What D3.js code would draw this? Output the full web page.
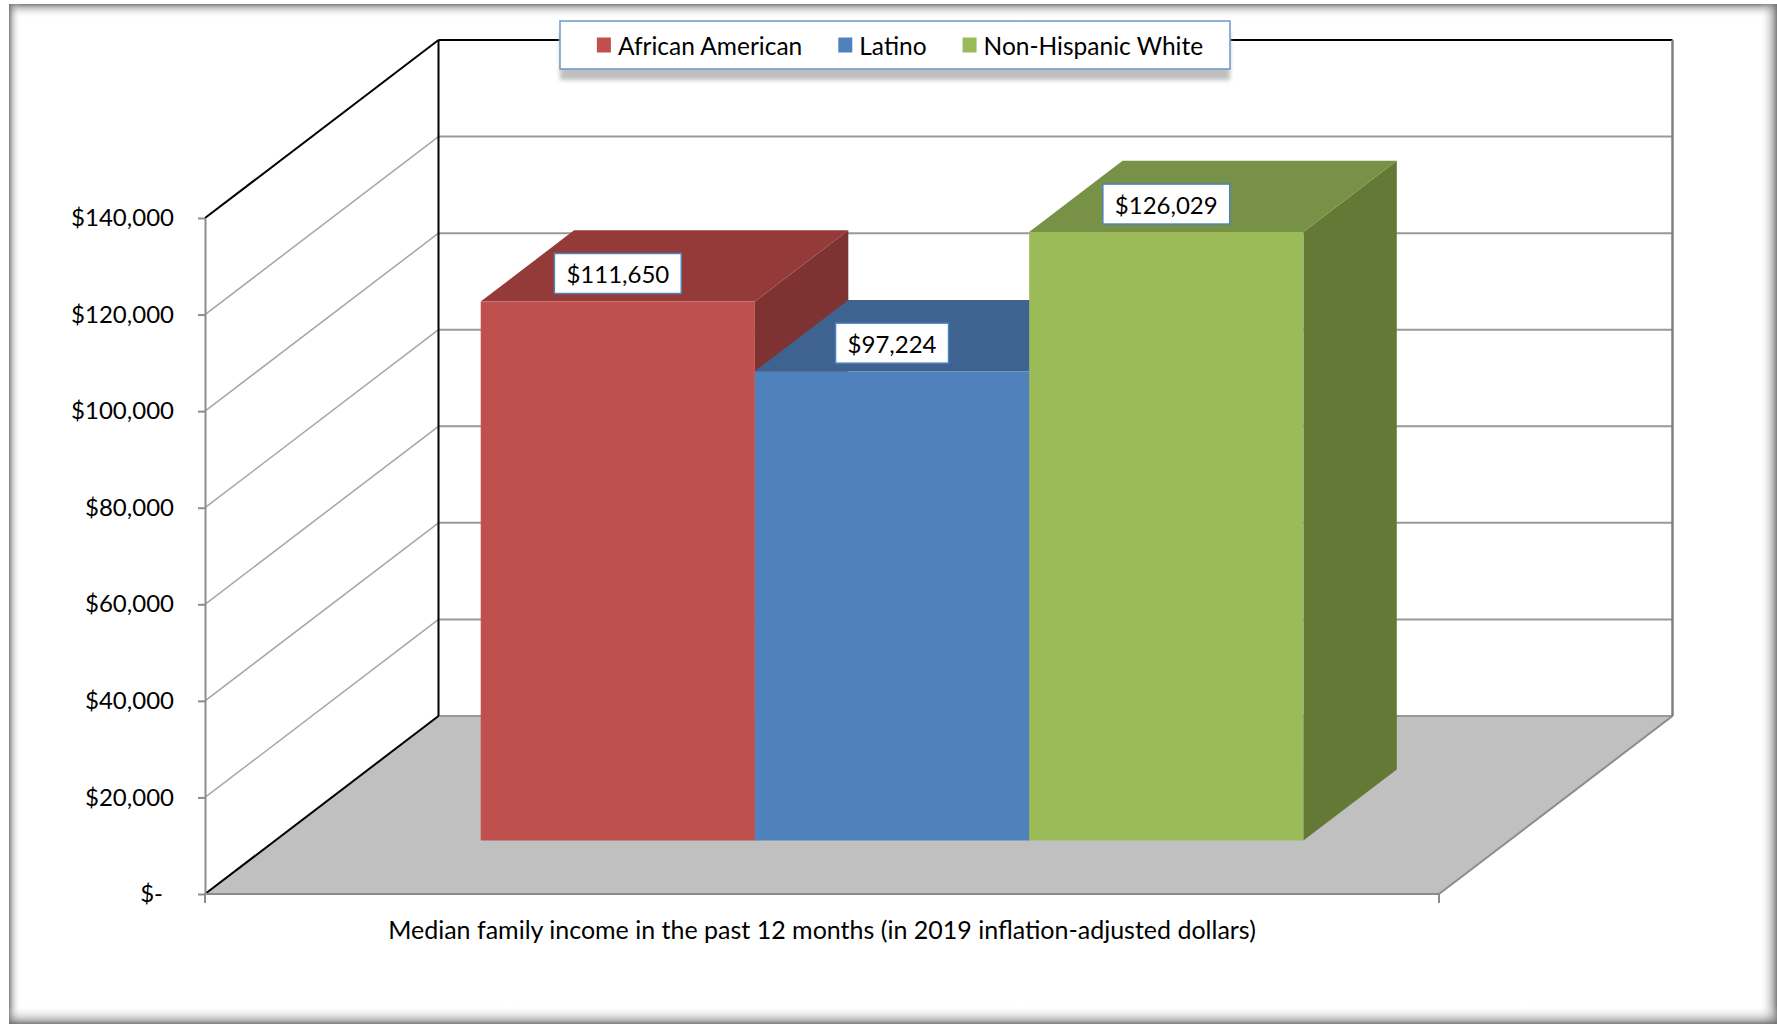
<!DOCTYPE html>
<html>
<head>
<meta charset="utf-8">
<script src="https://cdn.jsdelivr.net/npm/d3@7"></script>
<style>
  html, body { margin: 0; padding: 0; background: #fff; }
  svg { display: block; }
  text { font-family: Lato, "Open Sans", sans-serif; fill: #000; }
</style>
</head>
<body>
<svg id="chart" width="1777" height="1024"></svg>
<script>
// ---- data ----
const categories = ["Median family income in the past 12 months (in 2019 inflation-adjusted dollars)"];
const seriesNames = ["African American", "Latino", "Non-Hispanic White"];
const seriesValues = [111650, 97224, 126029];
const tickValues = [0, 20000, 40000, 60000, 80000, 100000, 120000, 140000];
const tickLabels = ["$-", "$20,000", "$40,000", "$60,000", "$80,000", "$100,000", "$120,000", "$140,000"];
const valueLabels = ["$111,650", "$97,224", "$126,029"];

// ---- styling ----
const faceColors = {
  "African American":   { front: "#C0504D", top: "#943B3A", side: "#7F3232" },
  "Latino":             { front: "#4F81BD", top: "#3E6391", side: "#34547C" },
  "Non-Hispanic White": { front: "#9BBB59", top: "#779246", side: "#657937" }
};
const WORD_FONT = 25;
const LEGEND_FONT = 24.5;
const NUM_FONT = 24;

const svg = d3.select("#chart");
const W = 1777, H = 1024;
const defs = svg.append("defs");
defs.append("filter").attr("id", "legendBlur").attr("x", "-5%").attr("y", "-50%").attr("width", "110%").attr("height", "200%")
  .append("feGaussianBlur").attr("stdDeviation", 2);

// ---- outer frame: shaded bands fading inward from each edge ----
const frame = { x: 9, y: 4, x2: W, y2: H };
const bands = [
  { id: "fTop",    x1: 0, y1: 0, x2: 0, y2: 1, x: frame.x, y: frame.y, w: frame.x2 - frame.x, h: 14 },
  { id: "fLeft",   x1: 0, y1: 0, x2: 1, y2: 0, x: frame.x, y: frame.y, w: 12, h: frame.y2 - frame.y },
  { id: "fRight",  x1: 1, y1: 0, x2: 0, y2: 0, x: frame.x2 - 18, y: frame.y, w: 18, h: frame.y2 - frame.y },
  { id: "fBottom", x1: 0, y1: 1, x2: 0, y2: 0, x: frame.x, y: frame.y2 - 18, w: frame.x2 - frame.x, h: 18 }
];
bands.forEach(b => {
  const gr = defs.append("linearGradient").attr("id", b.id)
    .attr("x1", b.x1).attr("y1", b.y1).attr("x2", b.x2).attr("y2", b.y2);
  gr.append("stop").attr("offset", 0).attr("stop-color", "#6e6e6e").attr("stop-opacity", 0.9);
  gr.append("stop").attr("offset", 0.25).attr("stop-color", "#8a8a8a").attr("stop-opacity", 0.55);
  gr.append("stop").attr("offset", 0.6).attr("stop-color", "#bbbbbb").attr("stop-opacity", 0.25);
  gr.append("stop").attr("offset", 1).attr("stop-color", "#ffffff").attr("stop-opacity", 0);
  svg.append("rect").attr("x", b.x).attr("y", b.y).attr("width", b.w).attr("height", b.h)
    .attr("fill", `url(#${b.id})`);
});

// ---- 3D geometry ----
const origin = { x: 205, y: 894 };      // front-left corner of the floor
const depth = { dx: 233.5, dy: 178 };    // offset from front to back wall
const floorW = 1234;
const plotH = 676;
const barZ0 = 0.3, barZ1 = 0.7;          // bar depth inside the floor

const yScale = d3.scaleLinear().domain([0, 140000]).range([0, plotH]);
const xCat = d3.scaleBand().domain(categories).range([0, floorW]);
const xSeries = d3.scaleBand().domain(seriesNames).range([0, xCat.bandwidth()])
  .paddingInner(0).paddingOuter(0.75);

const pt = (x, h, z) => [origin.x + x + z * depth.dx, origin.y - h - z * depth.dy];
const poly = pts => "M" + pts.map(p => p.join(",")).join("L") + "Z";
const line = (a, b) => "M" + a.join(",") + "L" + b.join(",");

const walls = svg.append("g");

// floor
walls.append("path")
  .attr("d", poly([pt(0, 0, 0), pt(0, 0, 1), pt(floorW, 0, 1), pt(floorW, 0, 0)]))
  .attr("fill", "#C0C0C0").attr("stroke", "none");

// gridlines on side wall and back wall
tickValues.forEach(t => {
  const h = yScale(t);
  const isTop = t === d3.max(tickValues);
  const col = isTop ? "#000" : "#A6A6A6";
  if (t > 0) {
    walls.append("path").attr("d", line(pt(0, h, 0), pt(0, h, 1)))
      .attr("stroke", col).attr("stroke-width", isTop ? 2 : 1.5).attr("fill", "none");
  }
  walls.append("path").attr("d", line(pt(0, h, 1), pt(floorW, h, 1)))
    .attr("stroke", isTop ? "#000" : "#999").attr("stroke-width", 2).attr("fill", "none");
});

// wall edges
walls.append("path").attr("d", line(pt(0, 0, 1), pt(0, plotH, 1)))
  .attr("stroke", "#000").attr("stroke-width", 2);
walls.append("path").attr("d", line(pt(floorW, 0, 1), pt(floorW, plotH, 1)))
  .attr("stroke", "#7f7f7f").attr("stroke-width", 2.5);
walls.append("path").attr("d", line(pt(0, 0, 0), pt(0, 0, 1)))
  .attr("stroke", "#000").attr("stroke-width", 2);
walls.append("path").attr("d", line(pt(floorW, 0, 0), pt(floorW, 0, 1)))
  .attr("stroke", "#8c8c8c").attr("stroke-width", 2);
walls.append("path").attr("d", line(pt(0, 0, 0), pt(floorW, 0, 0)))
  .attr("stroke", "#8c8c8c").attr("stroke-width", 2);

// ---- y axis on the front-left edge ----
const yFront = d3.scaleLinear().domain([0, 140000]).range([origin.y, origin.y - plotH]);
const yAxis = svg.append("g").attr("transform", `translate(${origin.x},0)`)
  .call(d3.axisLeft(yFront).tickValues(tickValues)
    .tickFormat((d, i) => tickLabels[i]).tickSize(7).tickSizeOuter(0).tickPadding(24));
yAxis.select(".domain").attr("stroke", "#8c8c8c").attr("stroke-width", 2);
yAxis.selectAll(".tick line").attr("stroke", "#8c8c8c").attr("stroke-width", 2);
yAxis.selectAll(".tick text").style("font-size", NUM_FONT + "px").attr("fill", "#000")
  .style("font-family", "Lato, 'Open Sans', sans-serif")
  .attr("dx", d => d === 0 ? -11 : 0);

// ---- category axis along the front floor edge ----
const xAxis = svg.append("g").attr("transform", `translate(${origin.x},${origin.y})`)
  .call(d3.axisBottom(xCat).tickSize(0).tickPadding(27));
xAxis.select(".domain").remove();
xAxis.selectAll(".tick text").style("font-size", WORD_FONT + "px").attr("fill", "#000")
  .style("font-family", "Lato, 'Open Sans', sans-serif");
// boundary ticks at both ends of the category band
xAxis.selectAll("line.edge").data(xCat.range()).enter().append("line").attr("class", "edge")
  .attr("x1", d => d).attr("x2", d => d).attr("y1", 0).attr("y2", 9)
  .attr("stroke", "#8c8c8c").attr("stroke-width", 2);

// ---- 3D bars ----
const bars = svg.append("g");
seriesNames.forEach((name, i) => {
  const x0 = xCat(categories[0]) + xSeries(name);
  const w = xSeries.bandwidth();
  const h = yScale(seriesValues[i]);
  const c = faceColors[name];
  const g = bars.append("g");
  g.append("path").attr("d", poly([pt(x0 + w, 0, barZ0), pt(x0 + w, h, barZ0), pt(x0 + w, h, barZ1), pt(x0 + w, 0, barZ1)]))
    .attr("fill", c.side);
  g.append("path").attr("d", poly([pt(x0, h, barZ0), pt(x0 + w, h, barZ0), pt(x0 + w, h, barZ1), pt(x0, h, barZ1)]))
    .attr("fill", c.top);
  g.append("path").attr("d", poly([pt(x0, 0, barZ0), pt(x0 + w, 0, barZ0), pt(x0 + w, h, barZ0), pt(x0, h, barZ0)]))
    .attr("fill", c.front);
});

// ---- value labels ----
const labels = svg.append("g");
seriesNames.forEach((name, i) => {
  const x0 = xCat(categories[0]) + xSeries(name);
  const w = xSeries.bandwidth();
  const h = yScale(seriesValues[i]);
  const [cx, cy0] = pt(x0 + w / 2, h, barZ0);
  const cy = cy0 - 28;
  const g = labels.append("g");
  const rect = g.append("rect").attr("fill", "#fff").attr("stroke", "#4F81BD").attr("stroke-width", 1.5);
  const t = g.append("text").attr("x", cx).attr("y", cy).attr("text-anchor", "middle")
    .attr("dominant-baseline", "central").style("font-size", NUM_FONT + "px").text(valueLabels[i]);
  const tw = t.node().getComputedTextLength();
  const bw = tw + 24, bh = 40;
  rect.attr("x", cx - bw / 2).attr("y", cy - bh / 2).attr("width", bw).attr("height", bh);
});

// ---- legend ----
const legendBox = { x: 560, y: 21, w: 670, h: 48 };
const legend = svg.append("g");
legend.append("rect").attr("x", legendBox.x).attr("y", legendBox.y + 11).attr("width", legendBox.w).attr("height", legendBox.h)
  .attr("fill", "#bfbfbf").attr("filter", "url(#legendBlur)");
legend.append("rect").attr("x", legendBox.x).attr("y", legendBox.y).attr("width", legendBox.w).attr("height", legendBox.h)
  .attr("fill", "#fff").attr("stroke", "#6f95c8").attr("stroke-width", 1.5);
const items = legend.append("g");
let cursor = 0;
seriesNames.forEach((name, i) => {
  const g = items.append("g").attr("transform", `translate(${cursor},0)`);
  g.append("rect").attr("x", 0).attr("y", -7.5).attr("width", 14).attr("height", 15).attr("fill", faceColors[name].front);
  const t = g.append("text").attr("x", 21).attr("y", 0).attr("dominant-baseline", "central")
    .style("font-size", LEGEND_FONT + "px").text(name);
  cursor += 21 + t.node().getComputedTextLength() + 36;
});
const itemsW = cursor - 36;
items.attr("transform", `translate(${900 - itemsW / 2},${legendBox.y + legendBox.h / 2})`);
</script>
</body>
</html>
